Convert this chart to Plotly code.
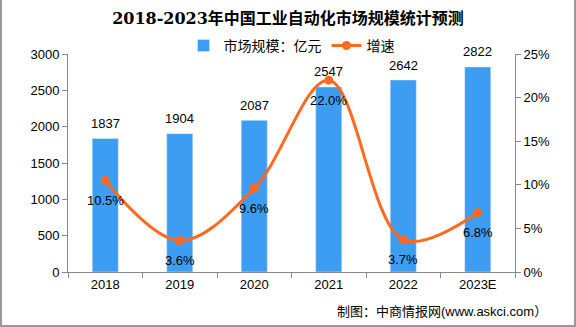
import plotly.graph_objects as go

years = ["2018", "2019", "2020", "2021", "2022", "2023E"]
market = [1837, 1904, 2087, 2547, 2642, 2822]
growth = [10.5, 3.6, 9.6, 22.0, 3.7, 6.8]
growth_labels = ["10.5%", "3.6%", "9.6%", "22.0%", "3.7%", "6.8%"]

BAR_C = "#3d9df2"
LINE_C = "#ff6a1f"
FONT = "Liberation Sans, Noto Sans CJK SC, sans-serif"

W, H = 576, 327
ml, mr, mt, mb = 68, 61, 54, 55
pw, ph = W - ml - mr, H - mt - mb

fig = go.Figure()
fig.add_trace(go.Bar(
    x=years, y=market, name="市场规模：亿元", marker_color=BAR_C, width=0.35, yaxis="y",
))
fig.add_trace(go.Scatter(
    x=years, y=growth, name="增速", mode="lines+markers", yaxis="y2",
    line=dict(color=LINE_C, width=3, shape="spline", smoothing=1.0),
    marker=dict(size=9, color=LINE_C),
))
for i, v in enumerate(market):
    fig.add_annotation(x=i, y=v, xref="x", yref="y", text=str(v), showarrow=False, yshift=15,
                       yanchor="middle", font=dict(size=13, color="#000", family=FONT))
for i, (g, t) in enumerate(zip(growth, growth_labels)):
    fig.add_annotation(x=i, y=g, xref="x", yref="y2", text=t, showarrow=False, yshift=-20,
                       yanchor="middle", font=dict(size=13, color="#000", family=FONT))

fig.add_annotation(xref="paper", yref="paper", x=1.075, y=-0.183, xanchor="right", yanchor="middle",
                   text="制图：中商情报网(www.askci.com）", showarrow=False,
                   font=dict(size=13, color="#000", family=FONT))

# outer frame
fig.add_shape(type="rect", xref="paper", yref="paper",
              x0=-(ml - 1) / pw, x1=(pw + mr - 1) / pw, y0=-(mb - 1) / ph, y1=(ph + mt + 5) / ph,
              line=dict(color="#999", width=2), fillcolor="rgba(0,0,0,0)", layer="below")

axis_common = dict(showline=True, linecolor="#888", linewidth=1, ticks="outside", tickcolor="#888",
                   ticklen=5, showgrid=False, zeroline=False, tickfont=dict(size=13, color="#000"))

fig.update_layout(
    width=W, height=H, margin=dict(l=ml, r=mr, t=mt, b=mb),
    paper_bgcolor="white", plot_bgcolor="white",
    font=dict(family=FONT, color="#000"),
    title=dict(text="<b>2018-2023年中国工业自动化市场规模统计预测</b>", x=0.5, xanchor="center",
               y=0.945, yanchor="middle", font=dict(size=16, family="DejaVu Serif, Noto Sans CJK SC", color="#000")),
    legend=dict(orientation="h", x=0.5, xanchor="center", y=1.037, yanchor="middle",
                font=dict(size=14), tracegroupgap=0, bgcolor="rgba(0,0,0,0)"),
    showlegend=True,
    xaxis=dict(**axis_common, type="category", tickson="boundaries", range=[-0.5, 5.5]),
    yaxis=dict(**axis_common, range=[0, 3000], dtick=500),
    yaxis2=dict(**axis_common, overlaying="y", side="right", range=[0, 25], dtick=5, ticksuffix="%"),
)

fig.write_html("out.html")
